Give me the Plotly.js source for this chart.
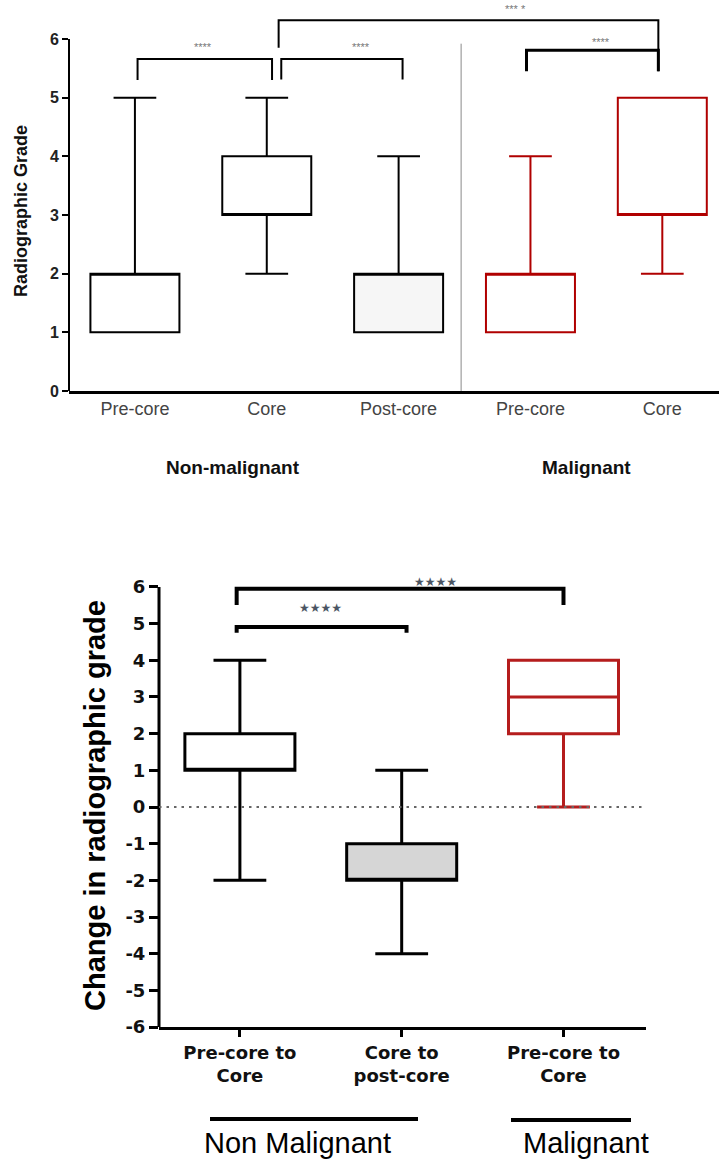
<!DOCTYPE html>
<html>
<head>
<meta charset="utf-8">
<script src="https://cdn.plot.ly/plotly-3.0.1.min.js"></script>
<style>
  html, body { margin: 0; padding: 0; background: #fff; }
  #chart { width: 719px; height: 1160px; }
</style>
</head>
<body>
<div id="chart"></div>
<script>
// ---- Upper panel: radiographic grade at each stage ----
const gradeStages = ['Pre-core', 'Core', 'Post-core', 'Pre-core', 'Core'];
const gradeMin    = [1, 2, 1, 1, 2];
const gradeQ1     = [1, 3, 1, 1, 3];
const gradeMedian = [2, 3, 2, 2, 3];
const gradeQ3     = [2, 4, 2, 2, 5];
const gradeMax    = [5, 5, 4, 4, 5];
const gradeMalignant = [false, false, false, true, true];
const gradeTicks  = [0, 1, 2, 3, 4, 5, 6];
const gradeGroups = ['Non-malignant', 'Malignant'];

// ---- Lower panel: change in radiographic grade ----
const changeLabels = ['Pre-core to<br>Core', 'Core to<br>post-core', 'Pre-core to<br>Core'];
const changeMin    = [-2, -4, 0];
const changeQ1     = [1, -2, 2];
const changeMedian = [1, -2, 3];
const changeQ3     = [2, -1, 4];
const changeMax    = [4, 1, 4];
const changeMalignant = [false, false, true];
const changeTicks  = [6, 5, 4, 3, 2, 1, 0, -1, -2, -3, -4, -5, -6];
const changeGroups = ['Non Malignant', 'Malignant'];

// significance comparisons (indices into the categories) and their labels
const gradeComparisons  = [[0, 1, '****'], [1, 2, '****'], [1, 4, '*** *'], [3, 4, '****']];
const changeComparisons = [[0, 1, '★★★★'], [0, 2, '★★★★']];

const W = 719, H = 1160;
const px = x => x / W;
const py = y => 1 - y / H;

const RED_TOP = '#b00000';
const RED_BOT = '#b51d1d';

// ---- geometry of the two panels (pixels) ----
const upperGeom = { left: 69, right: 719, zeroPx: 391, unit: 58.67, ymax: 6.6, xmin: -0.5, xmax: 4.43 };
const lowerGeom = { left: 159, right: 646, zeroPx: 807, unit: 36.67, ymin: -6, ymax: 6.4, xmin: -0.5, xmax: 2.51 };
const upperDomainY = [py(upperGeom.zeroPx), py(upperGeom.zeroPx - upperGeom.ymax * upperGeom.unit)];
const lowerDomainY = [py(lowerGeom.zeroPx - lowerGeom.ymin * lowerGeom.unit),
                      py(lowerGeom.zeroPx - lowerGeom.ymax * lowerGeom.unit)];

const traces = [];

gradeStages.forEach((name, i) => {
  const red = gradeMalignant[i];
  traces.push({
    type: 'box', orientation: 'v', xaxis: 'x', yaxis: 'y',
    x: [i], q1: [gradeQ1[i]], median: [gradeMedian[i]], q3: [gradeQ3[i]],
    lowerfence: [gradeMin[i]], upperfence: [gradeMax[i]],
    name: name, width: 0.675, whiskerwidth: 0.48, boxpoints: false,
    line: { color: red ? RED_TOP : '#000', width: 2 },
    fillcolor: i === 2 ? 'rgba(0,0,0,0.035)' : '#fff',
    hoverinfo: 'skip', showlegend: false
  });
});

changeLabels.forEach((name, i) => {
  const red = changeMalignant[i];
  traces.push({
    type: 'box', orientation: 'v', xaxis: 'x2', yaxis: 'y2',
    x: [i], q1: [changeQ1[i]], median: [changeMedian[i]], q3: [changeQ3[i]],
    lowerfence: [changeMin[i]], upperfence: [changeMax[i]],
    name: name, width: 0.68, whiskerwidth: 0.48, boxpoints: false,
    line: { color: red ? RED_BOT : '#000', width: 3 },
    fillcolor: i === 1 ? '#d6d6d6' : '#fff',
    hoverinfo: 'skip', showlegend: false
  });
});

const shapes = [];
const annotations = [];

function bracket(xr, yr, x0, x1, yTop, yL, yR, w) {
  shapes.push({
    type: 'path', xref: xr, yref: yr,
    path: `M ${x0},${yL} L ${x0},${yTop} L ${x1},${yTop} L ${x1},${yR}`,
    line: { color: '#000', width: w }
  });
}

function label(x, y, text, font, extra) {
  annotations.push(Object.assign({
    xref: 'paper', yref: 'paper', x: px(x), y: py(y), text: text,
    xanchor: 'center', yanchor: 'middle', showarrow: false, font: font
  }, extra || {}));
}

// upper-panel axis line (stops at 6) and group divider
shapes.push({ type: 'line', xref: 'x domain', yref: 'y', x0: 0, x1: 0, y0: 0, y1: 6,
  line: { color: '#000', width: 2 } });
shapes.push({ type: 'line', xref: 'x', yref: 'y', x0: 2.474, x1: 2.474, y0: 0, y1: 5.92,
  line: { color: '#8a8a8a', width: 1 } });

// upper-panel brackets: [x0, x1, top, left leg end, right leg end, width]
const gradeBracketGeom = [
  [0.02, 1.04, 5.66, 5.30, 5.30, 2],
  [1.11, 2.03, 5.66, 5.31, 5.31, 2],
  [1.09, 3.97, 6.32, 5.85, 5.45, 2],
  [2.97, 3.97, 5.81, 5.45, 5.45, 3]
];
const gradeLabelPos = [[0.516, 5.86], [1.715, 5.86], [2.884, 6.51], [3.537, 5.95]];
gradeComparisons.forEach((c, k) => {
  const g = gradeBracketGeom[k];
  bracket('x', 'y', g[0], g[1], g[2], g[3], g[4], g[5]);
  annotations.push({ xref: 'x', yref: 'y', x: gradeLabelPos[k][0], y: gradeLabelPos[k][1],
    xanchor: 'center', yanchor: 'middle', text: c[2], showarrow: false,
    font: { family: 'Liberation Sans, Arial, sans-serif', size: 11, color: '#777' } });
});

// lower-panel axis line, zero reference line
shapes.push({ type: 'line', xref: 'x2 domain', yref: 'y2', x0: 0, x1: 0, y0: -6, y1: 6,
  line: { color: '#000', width: 3 } });
shapes.push({ type: 'line', xref: 'x2 domain', yref: 'y2', x0: 0, x1: 0.997, y0: 0, y1: 0,
  line: { color: '#666', width: 2, dash: '2.5px,5px' } });

const changeBracketGeom = [
  [-0.02, 1.03, 4.91, 4.75, 4.75, 4],
  [-0.02, 2.00, 5.95, 5.51, 5.51, 4]
];
const changeLabelPos = [[0.50, 5.43], [1.21, 6.14]];
changeComparisons.forEach((c, k) => {
  const g = changeBracketGeom[k];
  bracket('x2', 'y2', g[0], g[1], g[2], g[3], g[4], g[5]);
  annotations.push({ xref: 'x2', yref: 'y2', x: changeLabelPos[k][0], y: changeLabelPos[k][1],
    xanchor: 'center', yanchor: 'middle', text: c[2], showarrow: false,
    font: { family: 'DejaVu Sans, sans-serif', size: 12, color: '#4b5563' } });
});

// group underlines in the lower panel
shapes.push({ type: 'line', xref: 'paper', yref: 'paper', x0: px(210), x1: px(418), y0: py(1119), y1: py(1119),
  line: { color: '#000', width: 4 } });
shapes.push({ type: 'line', xref: 'paper', yref: 'paper', x0: px(511), x1: px(631), y0: py(1120), y1: py(1120),
  line: { color: '#000', width: 4 } });

// axis titles and group names
const sansBold = (size, color) => ({ family: 'Liberation Sans, Arial, sans-serif', size: size, weight: 700, color: color });
label(21, 211, 'Radiographic Grade', sansBold(18, '#111'), { textangle: -90 });
label(233, 467, gradeGroups[0], sansBold(19, '#111'));
label(586, 467, gradeGroups[1], sansBold(19, '#111'));

label(95, 806, 'Change in radiographic grade', sansBold(29, '#000'), { textangle: -90 });
label(297, 1143, changeGroups[0], { family: 'Liberation Sans, Arial, sans-serif', size: 29, color: '#000' });
label(586, 1143, changeGroups[1], { family: 'Liberation Sans, Arial, sans-serif', size: 29, color: '#000' });

const layout = {
  width: W, height: H,
  margin: { l: 0, r: 0, t: 0, b: 0 },
  paper_bgcolor: '#fff', plot_bgcolor: '#fff',
  showlegend: false,
  xaxis: {
    domain: [px(upperGeom.left), px(upperGeom.right)], range: [upperGeom.xmin, upperGeom.xmax], anchor: 'y',
    showgrid: false, zeroline: false, showline: true, linecolor: '#000', linewidth: 2.5,
    tickvals: gradeStages.map((_, i) => i), ticktext: gradeStages, ticks: '',
    tickfont: { family: 'Liberation Sans, Arial, sans-serif', size: 18, color: '#444' },
    fixedrange: true
  },
  yaxis: {
    domain: upperDomainY, range: [0, upperGeom.ymax], anchor: 'x',
    showgrid: false, zeroline: false, showline: false,
    tickvals: gradeTicks, ticktext: gradeTicks.map(String),
    ticks: 'outside', ticklen: 6, tickwidth: 2, tickcolor: '#000',
    tickfont: { family: 'Liberation Sans, Arial, sans-serif', size: 16, weight: 700, color: '#222' },
    fixedrange: true
  },
  xaxis2: {
    domain: [px(lowerGeom.left), px(lowerGeom.right)], range: [lowerGeom.xmin, lowerGeom.xmax], anchor: 'y2',
    showgrid: false, zeroline: false, showline: true, linecolor: '#000', linewidth: 3,
    tickvals: changeLabels.map((_, i) => i), ticktext: changeLabels,
    ticks: 'outside', ticklen: 7, tickwidth: 3, tickcolor: '#000',
    tickfont: { family: 'DejaVu Sans, sans-serif', size: 18, weight: 700, color: '#111' },
    fixedrange: true
  },
  yaxis2: {
    domain: lowerDomainY, range: [lowerGeom.ymin, lowerGeom.ymax], anchor: 'x2',
    showgrid: false, zeroline: false, showline: false,
    tickvals: changeTicks, ticktext: changeTicks.map(String),
    ticks: 'outside', ticklen: 9, tickwidth: 3, tickcolor: '#000',
    tickfont: { family: 'DejaVu Sans, sans-serif', size: 18, weight: 700, color: '#111' },
    fixedrange: true
  },
  shapes: shapes,
  annotations: annotations
};

Plotly.newPlot('chart', traces, layout, { displayModeBar: false, staticPlot: true });
</script>
</body>
</html>
